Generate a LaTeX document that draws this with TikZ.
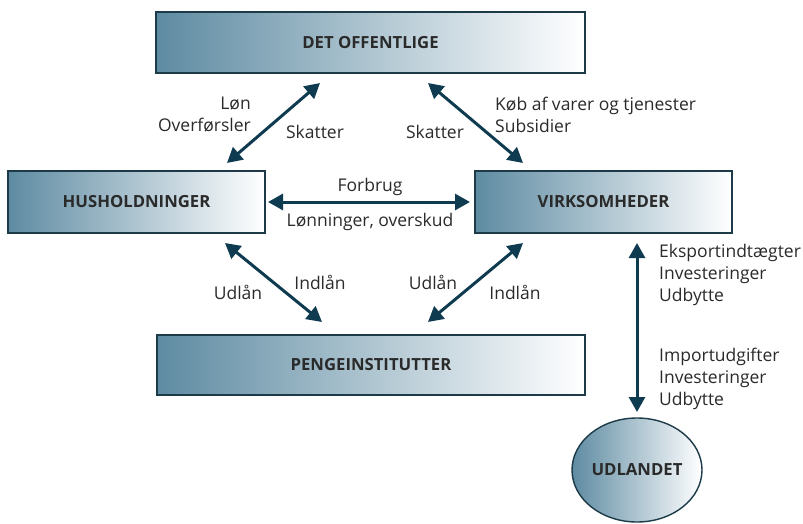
\documentclass[tikz,border=0pt]{standalone}
\usepackage{fontspec}
\setmainfont{Open Sans}
\usetikzlibrary{arrows.meta,shapes.geometric}
\definecolor{boxdark}{HTML}{5E8BA2}
\definecolor{boxmid}{HTML}{B3CAD5}
\definecolor{boxedge}{HTML}{1D3A48}
\definecolor{arrowc}{HTML}{0F3B50}
\definecolor{txt}{HTML}{2A2A2A}
\tikzset{
  sector/.style={draw=boxedge, line width=1.4pt, left color=boxdark, middle color=boxmid, right color=white,
    inner sep=0pt, font=\fontsize{16.7}{20}\selectfont\bfseries, text=txt},
  flow/.style={draw=arrowc, line width=3pt, {Triangle[length=15pt,width=16pt]}-{Triangle[length=15pt,width=16pt]}},
  lbl/.style={font=\fontsize{17.5}{22}\selectfont, text=txt, inner sep=0pt},
}
\begin{document}
\begin{tikzpicture}[x=1pt,y=-1pt]
\useasboundingbox (0,0) rectangle (803,524);
% nodes
\node[sector, minimum width=429pt, minimum height=61pt] (off) at (370.5,42.5) {DET OFFENTLIGE};
\node[sector, minimum width=257pt, minimum height=62pt] (hus) at (136.5,202) {HUSHOLDNINGER};
\node[sector, minimum width=257pt, minimum height=62pt] (virk) at (603.5,202) {VIRKSOMHEDER};
\node[sector, minimum width=428pt, minimum height=60pt] (penge) at (371,365) {PENGEINSTITUTTER};
\node[sector, ellipse, minimum width=130pt, minimum height=104pt] (udl) at (637,470) {UDLANDET};
% connector end points
\coordinate (a1) at (227,163); \coordinate (b1) at (320,83);
\coordinate (a2) at (428,83);  \coordinate (b2) at (523,163);
\coordinate (a3) at (268,202); \coordinate (b3) at (470,202);
\coordinate (a4) at (225,243); \coordinate (b4) at (322,322);
\coordinate (a5) at (428,322); \coordinate (b5) at (523,243);
\coordinate (a6) at (637,243); \coordinate (b6) at (637,412);
\draw[flow] (a1) -- (b1);
\draw[flow] (a2) -- (b2);
\draw[flow] (a3) -- (b3);
\draw[flow] (a4) -- (b4);
\draw[flow] (a5) -- (b5);
\draw[flow] (a6) -- (b6);
% labels
\node[lbl, align=right, anchor=east] (l1) at (251,115) {Løn\\Overførsler};
\node[lbl] (l2) at (315,132) {Skatter};
\node[lbl] (l3) at (435,132) {Skatter};
\node[lbl, align=left, anchor=west] (l4) at (495,115) {Køb af varer og tjenester\\Subsidier};
\node[lbl] (l5) at (370,187) {Forbrug};
\node[lbl] (l6) at (370,222) {Lønninger, overskud};
\node[lbl] (l7) at (238,292) {Udlån};
\node[lbl] (l8) at (320,282) {Indlån};
\node[lbl] (l9) at (433,282) {Udlån};
\node[lbl] (l10) at (515,292) {Indlån};
\node[lbl, align=left, anchor=west] (l11) at (659,275) {Eksportindtægter\\Investeringer\\Udbytte};
\node[lbl, align=left, anchor=west] (l12) at (659,379) {Importudgifter\\Investeringer\\Udbytte};
\end{tikzpicture}
\end{document}
